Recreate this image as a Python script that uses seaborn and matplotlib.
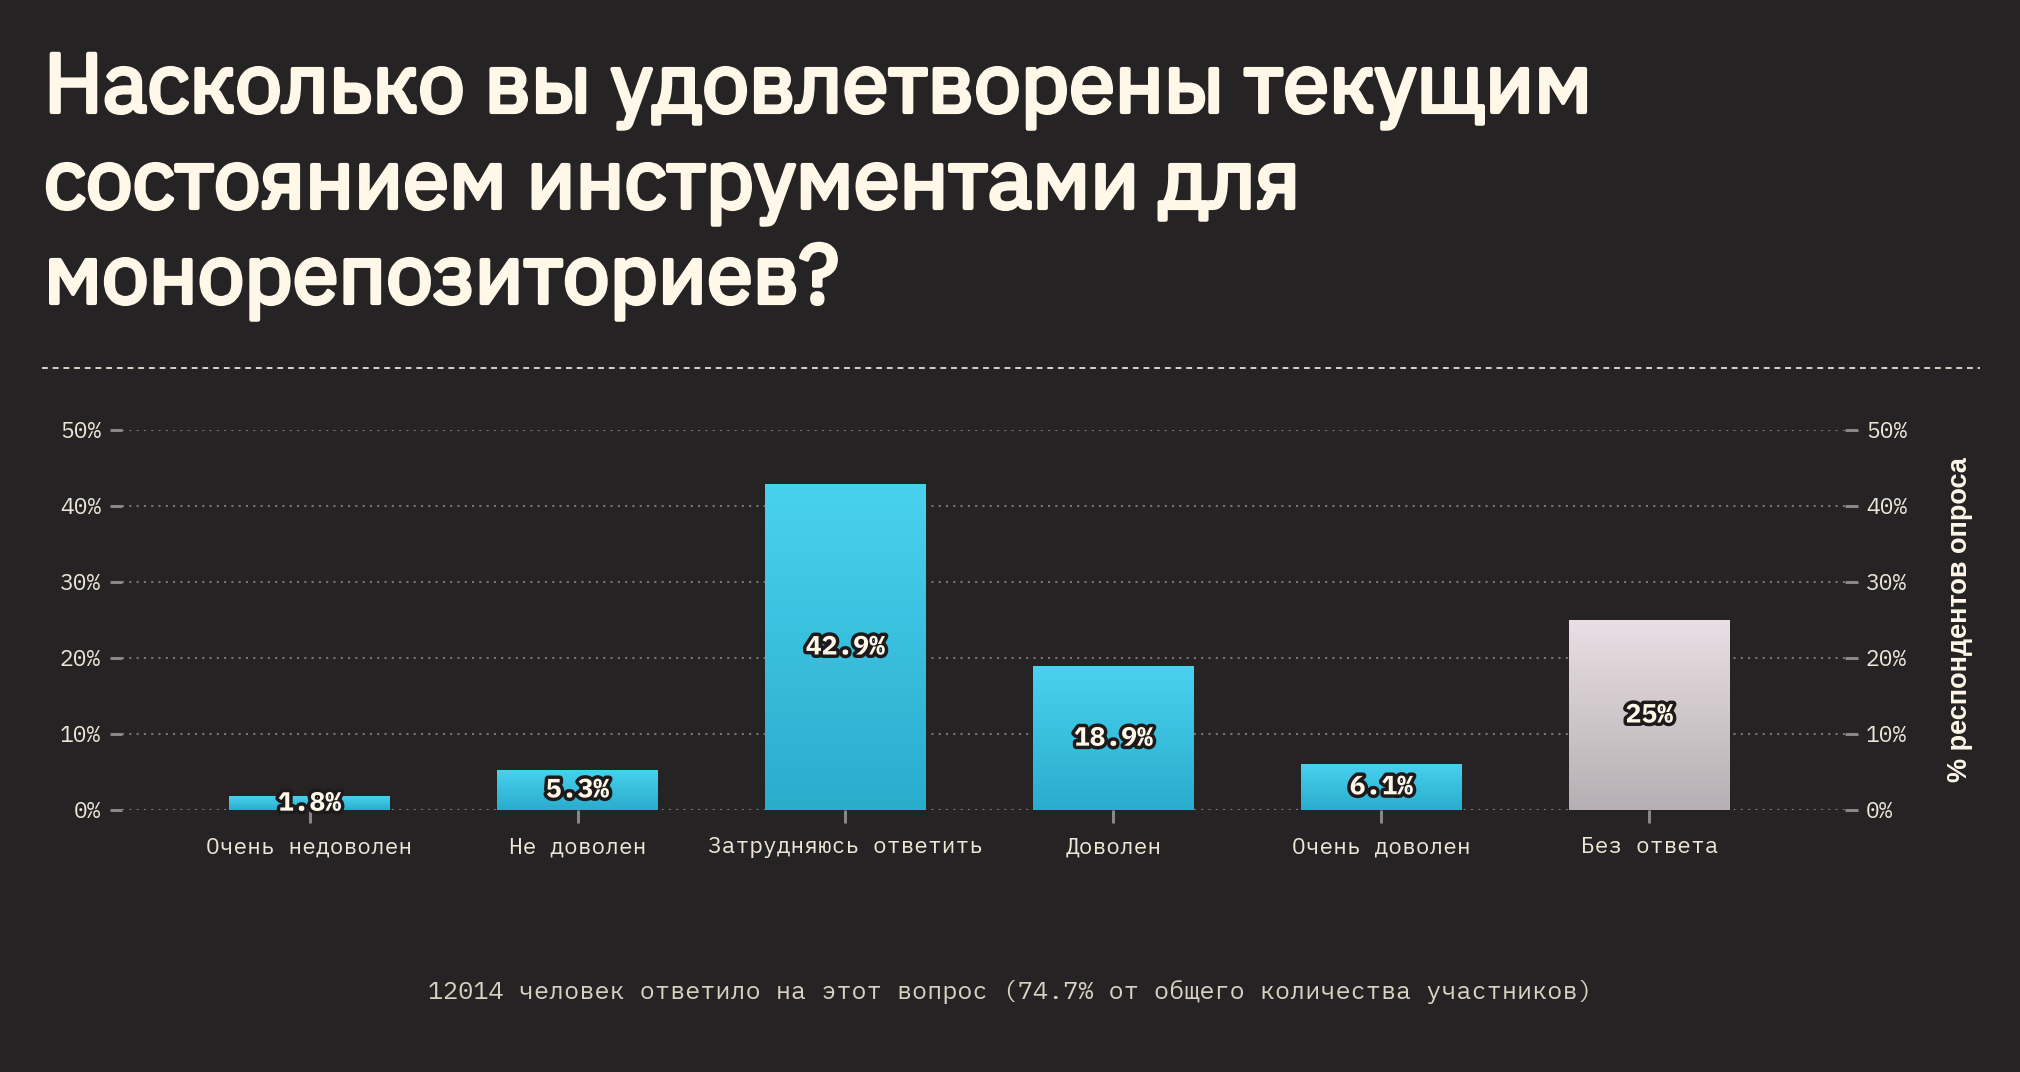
import numpy as np
import matplotlib
matplotlib.use("Agg")
import matplotlib.pyplot as plt
import matplotlib.patheffects as pe
from matplotlib.colors import LinearSegmentedColormap
import seaborn as sns

# Chart data
categories = ["Очень недоволен", "Не доволен", "Затрудняюсь ответить",
              "Доволен", "Очень доволен", "Без ответа"]
shares = [1.8, 5.3, 42.9, 18.9, 6.1, 25.0]
bar_labels = ["1.8%", "5.3%", "42.9%", "18.9%", "6.1%", "25%"]
y_ticks = [0, 10, 20, 30, 40, 50]
y_tick_labels = ["0%", "10%", "20%", "30%", "40%", "50%"]

title_lines = ["Насколько вы удовлетворены текущим",
               "состоянием инструментами для",
               "монорепозиториев?"]
axis_title = "% респондентов опроса"
footer = "12014 человек ответило на этот вопрос (74.7% от общего количества участников)"

BG = "#262324"
CREAM = "#FFF7E8"
TICK_TXT = "#EEE6D8"
GRID = "#7a7575"
MONO = ["IBM Plex Mono", "Roboto Mono", "DejaVu Sans Mono"]
SANS = ["IBM Plex Sans", "Inter", "DejaVu Sans"]
LABEL_SANS = ["Liberation Sans", "DejaVu Sans"]

sns.set_theme(style="dark")
plt.rcParams["font.family"] = SANS

W, H = 2020, 1072
fig = plt.figure(figsize=(W / 100, H / 100), dpi=100, facecolor=BG)
ax = fig.add_axes([122 / W, 1 - 810 / H, (1845 - 122) / W, 380 / H])
ax.set_facecolor(BG)

bar_colors = ["#3cc3e3"] * 5 + ["#d3cace"]
sns.barplot(x=categories, y=shares, hue=categories, palette=bar_colors,
            width=0.6, legend=False, ax=ax, zorder=3, linewidth=0)

# vertical gradients clipped to each bar
cyan = LinearSegmentedColormap.from_list("cyan", ["#2aaccd", "#49d2f0"])
grey = LinearSegmentedColormap.from_list("grey", ["#b7afb3", "#e9dfe4"])
grad = np.linspace(1, 0, 256).reshape(-1, 1)
for i, patch in enumerate(ax.patches):
    x0, w, h = patch.get_x(), patch.get_width(), patch.get_height()
    cmap = grey if i == len(ax.patches) - 1 else cyan
    im = ax.imshow(grad, extent=[x0, x0 + w, 0, h], cmap=cmap, aspect="auto",
                   zorder=3.5, vmin=0, vmax=1)
    im.set_clip_path(patch)
    ax.text(x0 + w / 2, h / 2, bar_labels[i], ha="center", va="center",
            fontsize=19, fontweight="bold", color=CREAM, zorder=5, family=MONO,
            path_effects=[pe.withStroke(linewidth=5, foreground="#1d1a1b")])

ax.set_xlim(-0.70, 5.73)
ax.set_ylim(0, 50)
ax.set_yticks(y_ticks)
ax.set_yticklabels(y_tick_labels)
ax.grid(axis="y", color=GRID, linestyle=(0, (1, 2.5)), linewidth=1.5, zorder=0)
ax.grid(axis="x", visible=False)
for s in ax.spines.values():
    s.set_visible(False)
ax.tick_params(axis="y", length=9, width=2.2, color="#8a8686", pad=6,
               labelsize=16.5, labelcolor=TICK_TXT, left=True)
ax.tick_params(axis="x", length=9, width=2.2, color="#8a8686", pad=10,
               labelsize=16.5, labelcolor=TICK_TXT, bottom=True)
for lab in ax.get_xticklabels() + ax.get_yticklabels():
    lab.set_family(MONO)
ax.set_xlabel("")
ax.set_ylabel("")

ax2 = ax.twinx()
ax2.set_ylim(0, 50)
ax2.set_yticks(y_ticks)
ax2.set_yticklabels(y_tick_labels)
ax2.tick_params(axis="y", length=9, width=2.2, color="#8a8686", pad=6,
                labelsize=16.5, labelcolor=TICK_TXT, right=True)
for lab in ax2.get_yticklabels():
    lab.set_family(MONO)
for s in ax2.spines.values():
    s.set_visible(False)
ax2.grid(False)
ax2.set_ylabel(axis_title, fontsize=19.5, fontweight="bold", color=CREAM,
               rotation=90, family=LABEL_SANS)
ax2.yaxis.set_label_coords((1947 - 122) / (1845 - 122), 0.5)

# title (regular Plex thickened with a same-colour stroke), divider, footer
baselines = [112, 208, 303]
for line, yb in zip(title_lines, baselines):
    fig.text(44 / W, 1 - yb / H, line, ha="left", va="baseline",
             fontsize=60, fontweight="bold", color=CREAM, family=SANS,
             path_effects=[pe.withStroke(linewidth=3, foreground=CREAM)])
fig.add_artist(plt.Line2D([42 / W, 1980 / W], [1 - 368 / H] * 2,
                          color="#d9d1c5", linewidth=1.4,
                          linestyle=(0, (3, 2.5))))
fig.text(0.5, 1 - 992 / H, footer, ha="center", va="center",
         fontsize=18.2, color="#d9d1c2", family=MONO)

fig.savefig("out.png", dpi=100, facecolor=BG)
